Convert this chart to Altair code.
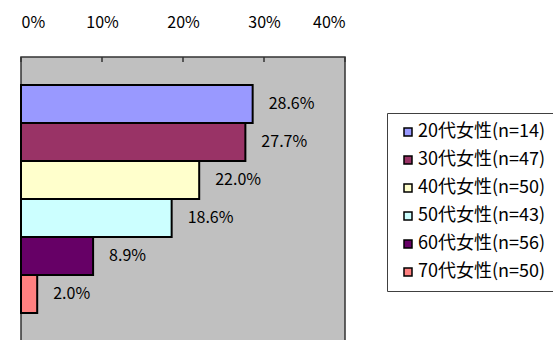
import altair as alt
import pandas as pd

categories = ["20代女性(n=14)", "30代女性(n=47)", "40代女性(n=50)",
              "50代女性(n=43)", "60代女性(n=56)", "70代女性(n=50)"]
values = [28.6, 27.7, 22.0, 18.6, 8.9, 2.0]
labels = ["28.6%", "27.7%", "22.0%", "18.6%", "8.9%", "2.0%"]
colors = ["#9999FF", "#993366", "#FFFFCC", "#CCFFFF", "#660066", "#FF8080"]
tick_values = [0, 10, 20, 30, 40]

FONT = "Noto Sans CJK JP"

df = pd.DataFrame({"cat": categories, "val": values, "lab": labels})
ticks_df = pd.DataFrame({"t": tick_values})

xscale = alt.Scale(domain=[0, 40], nice=False, zero=True)
yscale = alt.Scale(domain=categories, paddingInner=0, paddingOuter=0.74)

bars = alt.Chart(df).mark_bar(stroke="black", strokeWidth=2).encode(
    x=alt.X("val:Q", scale=xscale,
            axis=alt.Axis(orient="top", values=tick_values, title=None,
                          labelExpr="datum.value + '%'", labelFontSize=16,
                          labelFont=FONT, labelColor="black",
                          labelBaseline="middle", labelPadding=35,
                          domain=False, ticks=False, tickSize=0, grid=False)),
    y=alt.Y("cat:N", scale=yscale, sort=categories, axis=None),
    color=alt.Color("cat:N", scale=alt.Scale(domain=categories, range=colors),
                    sort=categories,
                    legend=alt.Legend(title=None, orient="none", legendX=366, legendY=56,
                                      symbolType="square", symbolSize=64,
                                      symbolStrokeColor="black", symbolStrokeWidth=1.5,
                                      symbolOffset=2,
                                      labelFont=FONT, labelFontSize=18, labelColor="black",
                                      labelOffset=1, rowPadding=10, padding=10,
                                      strokeColor="#404040", fillColor="white",
                                      labelLimit=300)),
)

text = alt.Chart(df).mark_text(align="left", baseline="middle", dx=16,
                               fontSize=16, font=FONT, color="black").encode(
    x=alt.X("val:Q", scale=xscale),
    y=alt.Y("cat:N", scale=yscale, sort=categories),
    text="lab:N",
)

tick_marks = alt.Chart(ticks_df).mark_rule(color="#333333", strokeWidth=1.5).encode(
    x=alt.X("t:Q", scale=xscale),
    y=alt.value(0),
    y2=alt.value(5),
)

chart = alt.layer(bars, text, tick_marks).properties(
    width=324, height=284,
    autosize=alt.AutoSizeParams(type="none"),
    padding={"left": 21, "top": 57, "right": 208, "bottom": 0},
    background="white",
).configure_view(
    fill="#C0C0C0", stroke="#333333", strokeWidth=1.5
)

chart.save("out.html", embed_options={"renderer": "svg", "actions": False})
